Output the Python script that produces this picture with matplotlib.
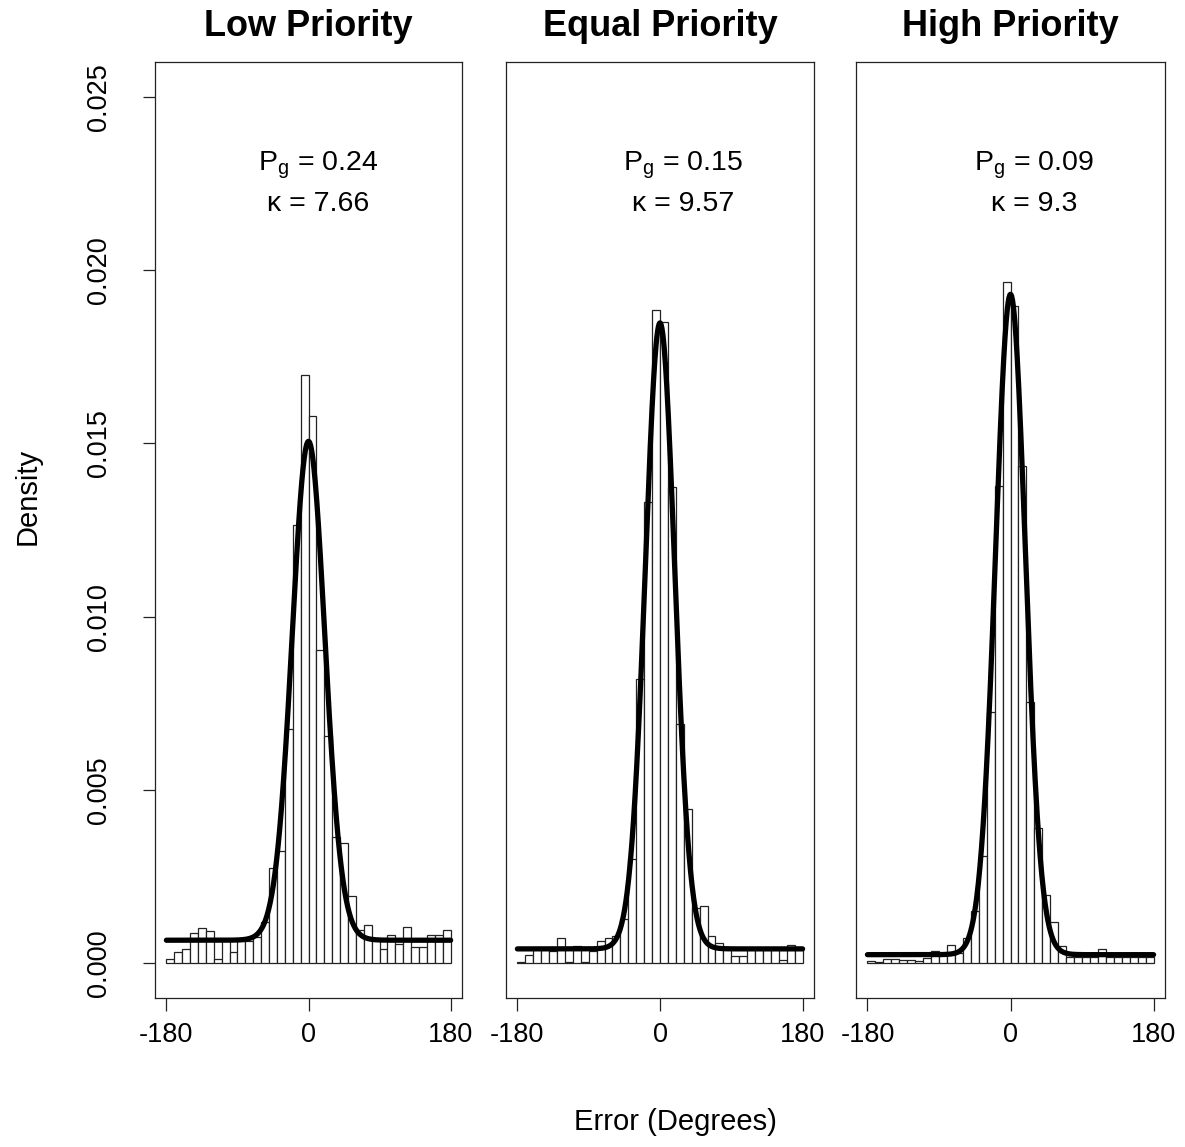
import numpy as np
import matplotlib
matplotlib.use("Agg")
import matplotlib.pyplot as plt

plt.rcParams['font.family'] = ['Liberation Sans', 'DejaVu Sans']
plt.rcParams['mathtext.fontset'] = 'custom'
plt.rcParams['mathtext.rm'] = 'Liberation Sans'
plt.rcParams['mathtext.it'] = 'Liberation Sans'

# ---- data ----
bin_edges = np.arange(-180, 181, 10)
titles = ["Low Priority", "Equal Priority", "High Priority"]
pg_values = [0.24, 0.15, 0.09]
kappa_values = [7.66, 9.57, 9.3]
pg_labels = ["0.24", "0.15", "0.09"]
kappa_labels = ["7.66", "9.57", "9.3"]

low_density = [0.000125, 0.00034, 0.00041, 0.00088, 0.00101, 0.00094, 0.000125, 0.00070, 0.00032,
               0.00065, 0.00065, 0.00075, 0.00119, 0.00276, 0.00324, 0.00677, 0.01263, 0.01698,
               0.01578, 0.00904, 0.00655, 0.00365, 0.00346, 0.00194, 0.00096, 0.00111, 0.00070,
               0.00041, 0.00082, 0.00055, 0.00104, 0.00048, 0.00048, 0.00082, 0.00082, 0.00096]
equal_density = [0.00005, 0.00024, 0.00040, 0.00040, 0.00036, 0.00072, 0.00005, 0.00051, 0.00005,
                 0.00036, 0.00065, 0.00072, 0.00078, 0.00129, 0.00301, 0.00820, 0.01330, 0.01886,
                 0.01850, 0.01375, 0.00690, 0.00445, 0.00160, 0.00166, 0.00080, 0.00060, 0.00046,
                 0.00022, 0.00022, 0.00040, 0.00040, 0.00040, 0.00040, 0.00010, 0.00054, 0.00046]
high_density = [0.00006, 0.00003, 0.00012, 0.00012, 0.00010, 0.00010, 0.00008, 0.00014, 0.00036,
                0.00025, 0.00053, 0.00030, 0.00074, 0.00150, 0.00310, 0.00724, 0.01377, 0.01965,
                0.01896, 0.01435, 0.00754, 0.00389, 0.00196, 0.00118, 0.00050, 0.00018, 0.00018,
                0.00018, 0.00018, 0.00042, 0.00018, 0.00018, 0.00018, 0.00018, 0.00018, 0.00018]
densities = [low_density, equal_density, high_density]

x_ticks = [-180, 0, 180]
y_ticks = [0.000, 0.005, 0.010, 0.015, 0.020, 0.025]
y_tick_labels = ["0.000", "0.005", "0.010", "0.015", "0.020", "0.025"]

# ---- layout ----
W, H = 1185, 1147
fig = plt.figure(figsize=(W / 100, H / 100), dpi=100)
panel_px = [(155, 462), (506, 814), (856, 1165)]
top_px, bot_px = 62, 998

def mixture(x_deg, pg, kappa):
    r = np.deg2rad(x_deg)
    vm = np.exp(kappa * np.cos(r)) / (2 * np.pi * np.i0(kappa)) * np.pi / 180
    return (1 - pg) * vm + pg / 360

text_x = [12, 29, 30]
xs = np.linspace(-180, 180, 721)
for i, (l, r) in enumerate(panel_px):
    ax = fig.add_axes([l / W, 1 - bot_px / H, (r - l) / W, (bot_px - top_px) / H])
    d = np.array(densities[i])
    ax.bar(bin_edges[:-1], d, width=10, align='edge', facecolor='white',
           edgecolor='#222222', linewidth=0.9)
    ax.plot(xs, mixture(xs, pg_values[i], kappa_values[i]), color='black', lw=3.8,
            solid_capstyle='round')
    ax.set_xlim(-194.4, 194.4)
    ax.set_ylim(-0.001, 0.026)
    for s in ax.spines.values():
        s.set_linewidth(0.9)
        s.set_color('#222222')
    ax.set_xticks(x_ticks)
    ax.set_xticklabels([str(t) for t in x_ticks])
    ax.tick_params(axis='x', length=9, width=0.9, pad=8, labelsize=19.5, color='#222222')
    if i == 0:
        ax.set_yticks(y_ticks)
        ax.set_yticklabels(y_tick_labels, rotation=90, va='center')
        ax.tick_params(axis='y', length=9, width=0.9, pad=22, labelsize=19.5, color='#222222')
    else:
        ax.set_yticks([])
    ax.text(text_x[i], 0.02301, r"$\mathrm{P_g}$ = " + pg_labels[i], ha='center', va='center',
            fontsize=20.5)
    ax.text(text_x[i], 0.02189, "\u03ba = " + kappa_labels[i], ha='center', va='center',
            fontsize=20.5)
    fig.text((l + r) / 2 / W, 1 - 27 / H, titles[i], ha='center', va='center',
             fontsize=26, fontweight='bold')

fig.text(28 / W, 1 - 496 / H, "Density", rotation=90, ha='center', va='center', fontsize=21)
fig.text(675 / W, 1 - 1122 / H, "Error (Degrees)", ha='center', va='center', fontsize=21)

fig.savefig("out.png", dpi=100, facecolor='white')
